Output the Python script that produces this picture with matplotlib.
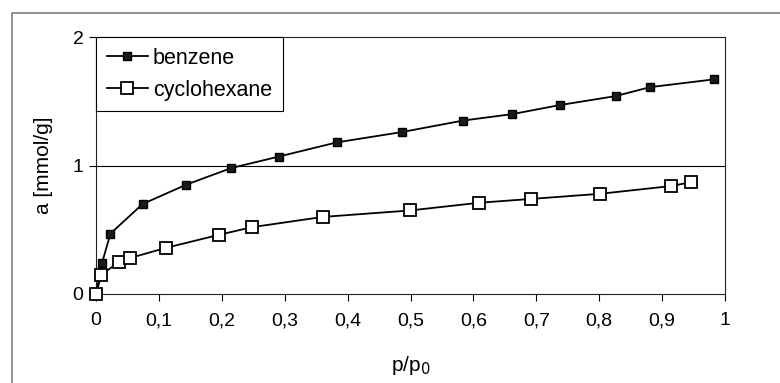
import matplotlib
matplotlib.use("Agg")
import matplotlib.pyplot as plt
from matplotlib.patches import Rectangle

# relative pressure p/p0 and adsorbed amount a [mmol/g]
benz_x = [0.0, 0.0095, 0.023, 0.074, 0.143, 0.215, 0.291, 0.383, 0.486, 0.584, 0.662, 0.737, 0.826, 0.881, 0.982]
benz_y = [0.0, 0.24, 0.47, 0.70, 0.85, 0.98, 1.07, 1.18, 1.26, 1.35, 1.40, 1.47, 1.54, 1.61, 1.67]
cyc_x = [0.0, 0.0085, 0.037, 0.054, 0.112, 0.195, 0.248, 0.361, 0.499, 0.609, 0.692, 0.802, 0.914, 0.946]
cyc_y = [0.0, 0.15, 0.25, 0.28, 0.36, 0.46, 0.52, 0.60, 0.65, 0.71, 0.74, 0.78, 0.84, 0.87]

xticks = [0, 0.1, 0.2, 0.3, 0.4, 0.5, 0.6, 0.7, 0.8, 0.9, 1]
xlabels = ["0", "0,1", "0,2", "0,3", "0,4", "0,5", "0,6", "0,7", "0,8", "0,9", "1"]
yticks = [0, 1, 2]

plt.rcParams['font.family'] = ['Liberation Sans', 'DejaVu Sans']

fig = plt.figure(figsize=(7.8, 3.83), dpi=100)
# outer chart frame
fig.patches.append(Rectangle((12/780, -0.1), 1.0, (383-13)/383 + 0.1, transform=fig.transFigure,
                             fill=False, edgecolor='#808080', lw=1.2))
ax = fig.add_axes([96/780, 89/383, 629/780, 257/383])

ax.plot(benz_x, benz_y, color='black', lw=1.3, marker='s', ms=5.5, mfc='#1a1a1a', mec='black',
        label='benzene', clip_on=False, zorder=3)
ax.plot(cyc_x, cyc_y, color='black', lw=1.3, marker='s', ms=8, mfc='white', mec='black', mew=1.3,
        label='cyclohexane', clip_on=False, zorder=4)

ax.axhline(1, color='black', lw=0.8, zorder=1)
ax.set_xlim(0, 1)
ax.set_ylim(0, 2)
ax.set_xticks(xticks)
ax.set_xticklabels(xlabels)
ax.set_yticks(yticks)
ax.tick_params(direction='out', length=5, width=0.8, labelsize=14)
ax.tick_params(axis='x', pad=8)
ax.tick_params(axis='y', pad=4)
for s in ax.spines.values():
    s.set_linewidth(0.8)
    s.set_color('#222222')

ax.set_xlabel("p/p$_0$", fontsize=15, labelpad=18)
ax.set_ylabel("a [mmol/g]", fontsize=15, labelpad=14)

leg = ax.legend(loc='upper left', bbox_to_anchor=(0, 1), borderaxespad=0, fancybox=False,
                edgecolor='black', framealpha=1, fontsize=15.5, handlelength=1.9,
                labelspacing=0.5, borderpad=0.5, handletextpad=0.25)
leg.get_frame().set_linewidth(0.8)

fig.savefig("out.png", dpi=100)
